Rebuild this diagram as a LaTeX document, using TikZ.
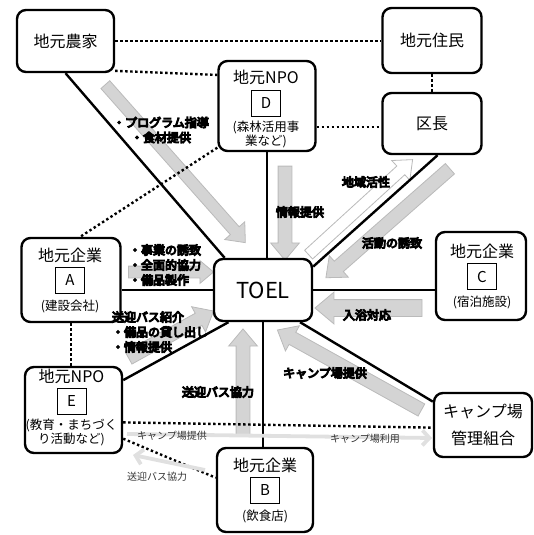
\documentclass[tikz,border=0pt]{standalone}
\usepackage{fontspec}
\setmainfont{Noto Sans CJK JP}
\newfontfamily\heavy{Noto Sans CJK JP}[FakeBold=9]
\usetikzlibrary{shapes,arrows,arrows.meta,positioning,calc}
\tikzstyle{box} = [draw, rounded corners=9pt, line width=2.4pt, fill=white, align=center, font=\fontsize{16}{27}\selectfont]
\tikzstyle{title} = [inner sep=0pt, font=\fontsize{16}{18}\selectfont]
\tikzstyle{letter} = [draw, line width=0.6pt, minimum width=29pt, minimum height=26pt, inner sep=0pt, font=\fontsize{15}{15}\selectfont]
\tikzstyle{sub} = [inner sep=0pt, align=center, font=\fontsize{12.5}{14}\selectfont]
\tikzstyle{link} = [line width=2.4pt]
\tikzstyle{tie} = [line width=2.4pt, dash pattern=on 2.4pt off 2.6pt]
\tikzstyle{fat} = [single arrow, draw=black!27, fill=black!17, line width=0.8pt, inner xsep=0pt, inner ysep=6.5pt, single arrow head extend=7.5pt, single arrow tip angle=80]
\tikzstyle{hollow} = [fat, fill=white]
\tikzstyle{faint} = [draw=black!12, line width=3.8pt, -{Straight Barb[length=7pt,width=15pt]}]
\tikzstyle{tag} = [inner sep=0pt, font=\heavy\fontsize{12}{15}\selectfont]
\tikzstyle{note} = [inner sep=0pt, font=\fontsize{10}{12}\selectfont, text=black!80]

% block arrow from #2 to #3
\newcommand\fatarrow[3][]{%
  \path let \p1=(#2), \p2=(#3) in
    node[fat, #1, minimum height={veclen(\x2-\x1,\y2-\y1)}, rotate={atan2(\y2-\y1,\x2-\x1)}] at ($(#2)!.5!(#3)$) {};}

\begin{document}
\begin{tikzpicture}[x=1pt,y=-1pt]
        \useasboundingbox (0,0) rectangle (533,535);

        % gray arrows
        \coordinate (g1s) at (103,82);  \coordinate (g1e) at (243,240);
        \coordinate (g2s) at (285,162); \coordinate (g2e) at (285,256);
        \coordinate (g3s) at (306,257); \coordinate (g3e) at (410,162);
        \coordinate (g4s) at (453,166); \coordinate (g4e) at (329,275);
        \coordinate (g5s) at (125,272); \coordinate (g5e) at (210,272);
        \coordinate (g6s) at (125,360); \coordinate (g6e) at (210,313);
        \coordinate (g7s) at (427,308); \coordinate (g7e) at (320,308);
        \coordinate (g8s) at (425,412); \coordinate (g8e) at (281,332);
        \coordinate (g9s) at (243,440); \coordinate (g9e) at (243,333);
        \fatarrow[inner ysep=5.5pt]{g1s}{g1e}
        \fatarrow{g2s}{g2e}
        \fatarrow[hollow, inner ysep=5.5pt]{g3s}{g3e}
        \fatarrow{g4s}{g4e}
        \fatarrow[inner ysep=5.5pt, single arrow head extend=5.5pt]{g5s}{g5e}
        \fatarrow{g6s}{g6e}
        \fatarrow[inner ysep=8pt]{g7s}{g7e}
        \fatarrow{g8s}{g8e}
        \fatarrow{g9s}{g9e}

        \node (farmer) [box, minimum width=97pt, minimum height=62pt] at (65.5,41) {地元農家};
        \node (resident) [box, minimum width=99pt, minimum height=65pt] at (432,40.5) {地元住民};
        \node (chief) [box, minimum width=99pt, minimum height=61pt] at (432,123.5) {区長};
        \node (toel) [box, minimum width=98pt, minimum height=62pt, font=\fontsize{22}{24}\selectfont] at (263,290) {TOEL};
        \node (camp) [box, minimum width=98pt, minimum height=64pt] at (483,425) {キャンプ場\\管理組合};
        \node (npoD) [box, minimum width=97pt, minimum height=90pt] at (267,106) {};
        \node (compA) [box, minimum width=99pt, minimum height=84pt] at (71,280) {};
        \node (compC) [box, minimum width=90pt, minimum height=88pt] at (481,276) {};
        \node (npoE) [box, minimum width=97pt, minimum height=86pt] at (73.5,410) {};
        \node (compB) [box, minimum width=96pt, minimum height=84pt] at (265,490) {};

        \node (letD) [letter] at (266,103) {D};
        \node (npoDt) [title, above=5pt of letD] {地元NPO};
        \node (npoDs) [sub, below=4pt of letD] {(森林活用事\\業など)};
        \node (letA) [letter] at (70,280) {A};
        \node (compAt) [title, above=4pt of letA] {地元企業};
        \node (compAs) [sub, below=6pt of letA] {(建設会社)};
        \node (letC) [letter] at (482,276.5) {C};
        \node (compCt) [title, above=4pt of letC] {地元企業};
        \node (compCs) [sub, below=6pt of letC] {(宿泊施設)};
        \node (letE) [letter] at (71.5,401) {E};
        \node (npoEt) [title, above=4pt of letE] {地元NPO};
        \node (npoEs) [sub, below=4pt of letE] {(教育・まちづく\\り活動など)};
        \node (letB) [letter] at (265,490) {B};
        \node (compBt) [title, above=4pt of letB] {地元企業};
        \node (compBs) [sub, below=6pt of letB] {(飲食店)};

        % solid links
        \draw [link] (farmer.south) -- (toel.140);
        \draw [link] (npoD.south) -- (npoD.south |- toel.north);
        \draw [link] (chief.-80) -- (toel.25);
        \draw [link] (toel.west) -- (toel.west -| compA.east);
        \draw [link] (toel.east) -- (toel.east -| compC.west);
        \draw [link] (npoE.31) -- (toel.223);
        \draw [link] (toel.-41) -- (camp.155);
        \draw [link] (toel.south) -- (toel.south |- compB.north);

        % dotted ties
        \draw [tie] (farmer.east) -- (farmer.east -| resident.west);
        \draw [tie] (farmer.-31) -- (npoD.148);
        \draw [tie] (resident.south) -- (chief.north);
        \draw [tie] (npoD.-23) -- (npoD.-23 -| chief.west);
        \draw [tie] (npoD.-140) -- (compA.78);
        \draw [tie] (compA.south) -- (compA.south |- npoE.north);
        \draw [tie] (npoE.-14) -- (camp.183);
        \draw [tie] (npoE.-30) -- (compB.166);

        % light arrows
        \coordinate (f1s) at (127,434); \coordinate (f1e) at (432,438);
        \coordinate (f2s) at (205,470); \coordinate (f2e) at (133,455);
        \draw [faint] (f1s) -- (f1e);
        \draw [faint] (f2s) -- (f2e);
        \node (n1) [note] at (172,436) {キャンプ場提供};
        \node (n2) [note] at (365,439) {キャンプ場利用};
        \node (n3) [note] at (157,477) {送迎バス協力};

        % labels
        \node (t1) [tag, align=center] at (161,130) {・プログラム指導\\・食材提供};
        \node (t2) [tag] at (300,212) {情報提供};
        \node (t3) [tag] at (366,182) {地域活性};
        \node (t4) [tag] at (392,243) {活動の誘致};
        \node (t5) [tag, align=left] at (165,265) {・事業の誘致\\・全面的協力\\・備品製作};
        \node (t6) [tag, align=left] at (160,332) {送迎バス紹介\\・備品の貸し出し\\・情報提供};
        \node (t7) [tag] at (367,315) {入浴対応};
        \node (t8) [tag] at (325,373) {キャンプ場提供};
        \node (t9) [tag] at (218,392) {送迎バス協力};

    \end{tikzpicture}
\end{document}
